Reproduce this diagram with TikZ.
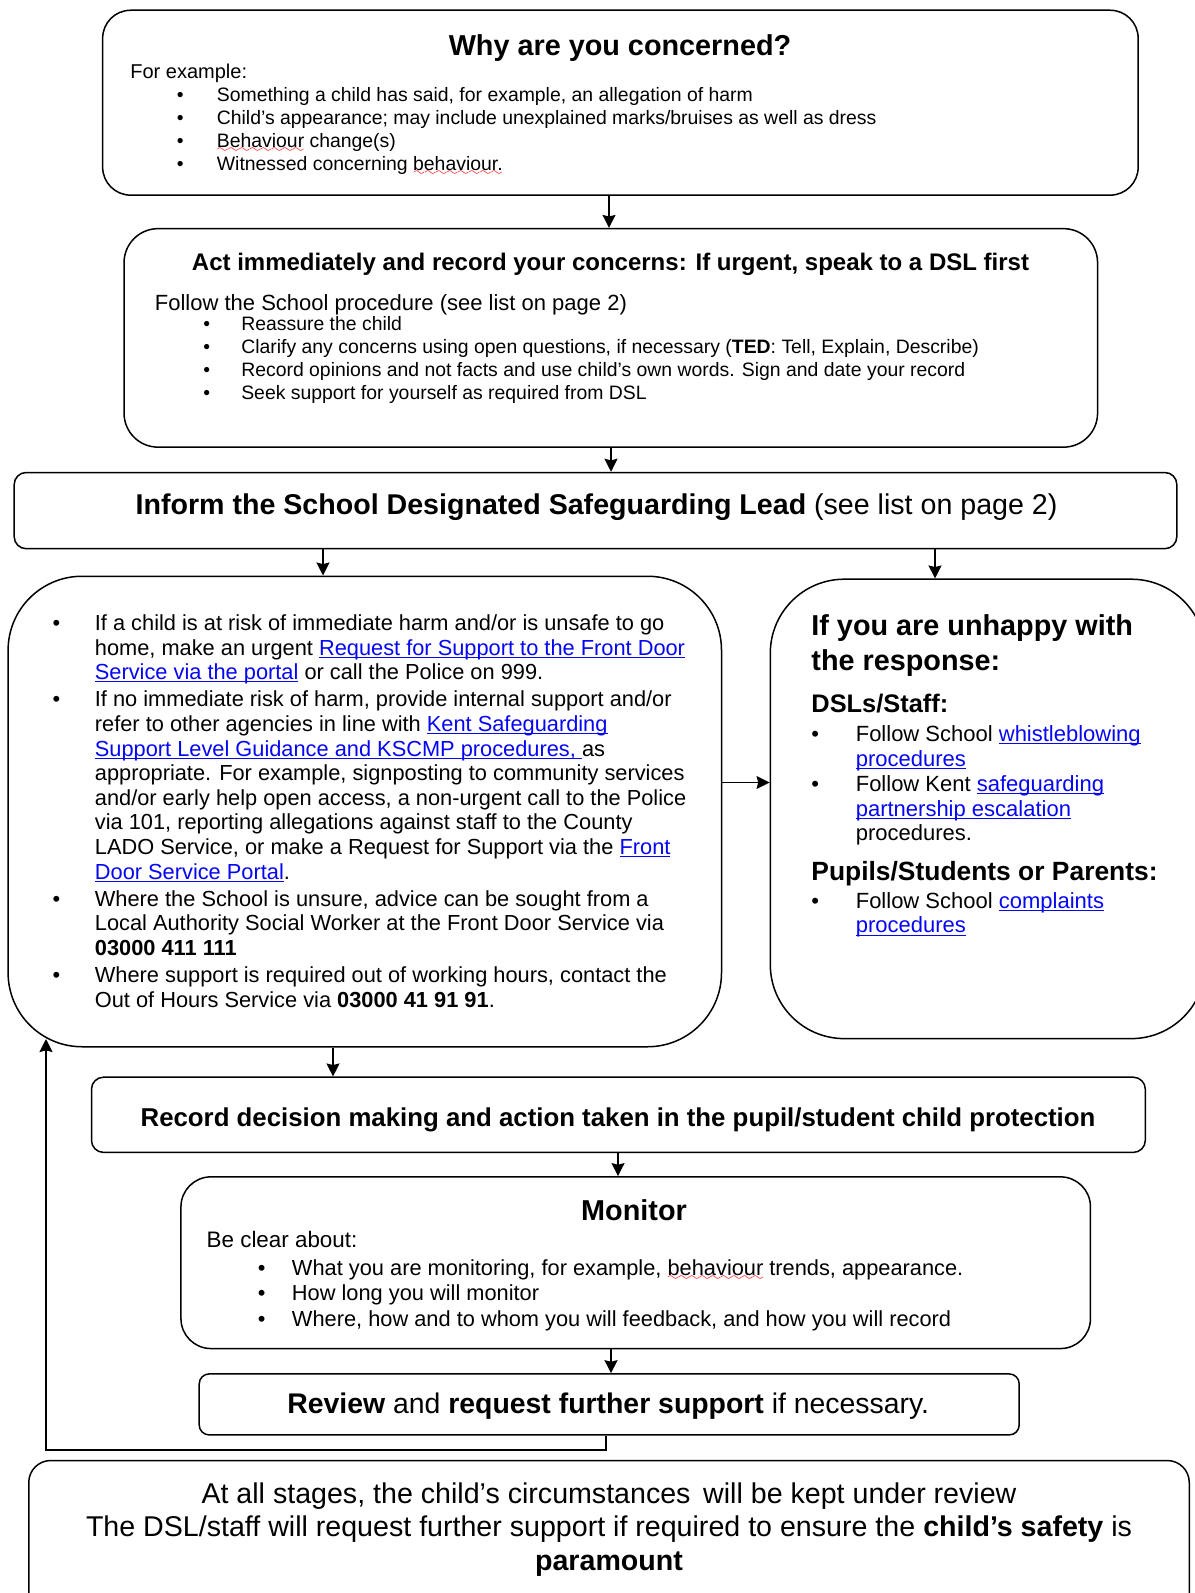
\documentclass[tikz,border=0pt]{standalone}
\usepackage{fontspec}
\setmainfont{Liberation Sans}
\usetikzlibrary{arrows.meta}
\definecolor{linkblue}{RGB}{5,5,245}
\font\wavefont=lasy6
\newcommand\fs[2]{\fontsize{#1}{#2}\selectfont}
\newcommand\link[1]{{\color{linkblue}\setbox0\hbox{#1}\rlap{\rule[-1.3pt]{\wd0}{0.5pt}}\box0}}
\newcommand\spellwave[1]{\setbox0\hbox{#1}\rlap{\color{red}\lower2.6pt\hbox to\wd0{\xleaders\hbox{\wavefont\char58}\hfil}}\box0\relax}
\newenvironment{blist}[1]{\begin{tabular}[t]{@{}p{#1}@{}l@{}}}{\end{tabular}}
\tikzset{
    box/.style={draw,line width=0.75pt,inner sep=0pt},
    boxsize/.style 2 args={minimum width=#1*0.5pt,minimum height=#2*0.5pt},
    txt/.style={inner sep=0pt,anchor=base west},
    head/.style={inner sep=0pt,font=\bfseries\fs{#1}{#1}},
    conn/.style={->,line width=0.65pt}}

\begin{document}
\begin{tikzpicture}[x=0.5pt,y=-0.5pt,>={Stealth[length=6.5pt,width=6.5pt,inset=0.8pt]}]
    \useasboundingbox (0,0) rectangle (1194,1593);
    %=========================================== why
    \node[box,rounded corners=14pt,boxsize={1035.5}{184.9}] (why) at (620.4,102.7) {};
    \node[head=14.4] (whyhead) at (620,48) {Why are you concerned?};
    \node[txt,font=\fs{10}{12}] (whylead) at (130,78.5) {For example:};
    \node[txt,font=\fs{9.7}{11.55}] (whylist) at (176.5,101.5) {\begin{blist}{20pt}
        \textbullet & Something a child has said, for example, an allegation of harm\\
        \textbullet & Child’s appearance; may include unexplained marks/bruises as well as dress\\
        \textbullet & \spellwave{Behaviour} change(s)\\
        \textbullet & Witnessed concerning \spellwave{behaviour.}
    \end{blist}};
    %=========================================== act
    \node[box,rounded corners=17pt,boxsize={973.5}{218.5}] (act) at (610.8,337.9) {};
    \node[head=12] (acthead) at (610.5,264.5) {Act immediately and record your concerns: If urgent, speak to a DSL first};
    \node[txt,font=\fs{11}{13}] (actlead) at (154.5,310.5) {Follow the School procedure (see list on page 2)};
    \node[txt,font=\fs{9.7}{11.5}] (actlist) at (202.9,330.5) {\begin{blist}{19pt}
        \textbullet & Reassure the child\\
        \textbullet & Clarify any concerns using open questions, if necessary (\textbf{TED}: Tell, Explain, Describe)\\
        \textbullet & Record opinions and not facts and use child’s own words. Sign and date your record\\
        \textbullet & Seek support for yourself as required from DSL
    \end{blist}};
    %=========================================== inform
    \node[box,rounded corners=6pt,boxsize={1162.6}{76.2}] (inform) at (595.5,510.6) {};
    \node[inner sep=0pt,font=\fs{14.3}{16}] (informtext) at (596.5,507) {\textbf{Inform the School Designated Safeguarding Lead} (see list on page 2)};
    %=========================================== action
    \node[box,rounded corners=37pt,boxsize={713.4}{470.5}] (action) at (364.8,811.5) {};
    \node[txt,font=\fs{10.9}{12.3}] (actionlist) at (52.1,630.5) {\begin{blist}{21.2pt}
        \textbullet & If a child is at risk of immediate harm and/or is unsafe to go\\
        & home, make an urgent \link{Request for Support to the Front Door}\\
        & \link{Service via the portal} or call the Police on 999.\\[1.3pt]
        \textbullet & If no immediate risk of harm, provide internal support and/or\\
        & refer to other agencies in line with \link{Kent Safeguarding}\\
        & \link{Support Level Guidance and KSCMP procedures, }as\\
        & appropriate. For example, signposting to community services\\
        & and/or early help open access, a non-urgent call to the Police\\
        & via 101, reporting allegations against staff to the County\\
        & LADO Service, or make a Request for Support via the \link{Front}\\
        & \link{Door Service Portal}.\\[1.3pt]
        \textbullet & Where the School is unsure, advice can be sought from a\\
        & Local Authority Social Worker at the Front Door Service via\\
        & \textbf{03000 411 111}\\[1.3pt]
        \textbullet & Where support is required out of working hours, contact the\\
        & Out of Hours Service via \textbf{03000 41 91 91}.
    \end{blist}};
    %=========================================== unhappy
    \node[box,rounded corners=37pt,boxsize={435}{459.4}] (unhappy) at (987.8,808.9) {};
    \node[txt,font=\bfseries\fs{14.4}{17.8}] (unhappyhead) at (811,635) {\begin{tabular}[t]{@{}l@{}}If you are unhappy with\\the response:\end{tabular}};
    \node[txt,font=\bfseries\fs{12.7}{14}] (dslhead) at (811,712) {DSLs/Staff:};
    \node[txt,font=\fs{11}{12.3}] (dsllist) at (811,741.5) {\begin{blist}{22.2pt}
        \textbullet & Follow School \link{whistleblowing}\\
        & \link{procedures}\\[0.5pt]
        \textbullet & Follow Kent \link{safeguarding}\\
        & \link{partnership escalation}\\
        & procedures.
    \end{blist}};
    \node[txt,font=\bfseries\fs{13.2}{14}] (pupilhead) at (811,880) {Pupils/Students or Parents:};
    \node[txt,font=\fs{11}{12.2}] (pupillist) at (811,908.5) {\begin{blist}{22.2pt}
        \textbullet & Follow School \link{complaints}\\
        & \link{procedures}
    \end{blist}};
    %=========================================== record
    \node[box,rounded corners=6pt,boxsize={1053.8}{75.2}] (record) at (618.4,1114.8) {};
    \node[head=12.9] (recordtext) at (618,1120) {Record decision making and action taken in the pupil/student child protection};
    %=========================================== monitor
    \node[box,rounded corners=15pt,boxsize={909.5}{171.7}] (monitor) at (635.7,1262.7) {};
    \node[head=14.4] (monitorhead) at (634,1210) {Monitor};
    \node[txt,font=\fs{11.2}{13}] (monitorlead) at (206.3,1247) {Be clear about:};
    \node[txt,font=\fs{10.9}{12.8}] (monitorlist) at (257.4,1275) {\begin{blist}{17.1pt}
        \textbullet & What you are monitoring, for example, \spellwave{behaviour} trends, appearance.\\
        \textbullet & How long you will monitor\\
        \textbullet & Where, how and to whom you will feedback, and how you will record
    \end{blist}};
    %=========================================== review
    \node[box,rounded corners=5pt,boxsize={820}{61}] (review) at (609.2,1404.4) {};
    \node[inner sep=0pt,font=\fs{14.2}{16}] (reviewtext) at (608.2,1406) {\textbf{Review} and \textbf{request further support} if necessary.};
    %=========================================== stages
    \node[box,rounded corners=11pt,boxsize={1160.5}{190}] (stages) at (609,1555.5) {};
    \node[txt,anchor=base,font=\fs{14.3}{16.75}] (stagestext) at (609,1503) {\begin{tabular}[t]{@{}c@{}}
        At all stages, the child’s circumstances\, will be kept under review\\
        The DSL/staff will request further support if required to ensure the \textbf{child’s safety} is\\
        \textbf{paramount}
    \end{tabular}};
    %=========================================== connectors
    \draw[conn] (why.south -| 609,0) -- (act.north -| 609,0);
    \draw[conn] (act.south -| 611,0) -- (inform.north -| 611,0);
    \draw[conn] (inform.south -| 323,0) -- (action.north -| 323,0);
    \draw[conn] (inform.south -| 935,0) -- (unhappy.north -| 935,0);
    \draw[conn] (action.east |- 0,782.5) -- (unhappy.west |- 0,782.5);
    \draw[conn] (action.south -| 333,0) -- (record.north -| 333,0);
    \draw[conn] (record.south -| 618,0) -- (monitor.north -| 618,0);
    \draw[conn] (monitor.south -| 611,0) -- (review.north -| 611,0);
    \coordinate (backin) at (46,1039);
    \draw[conn] (review.south -| 606,0) |- (46,1450) -- (backin);
\end{tikzpicture}
\end{document}
